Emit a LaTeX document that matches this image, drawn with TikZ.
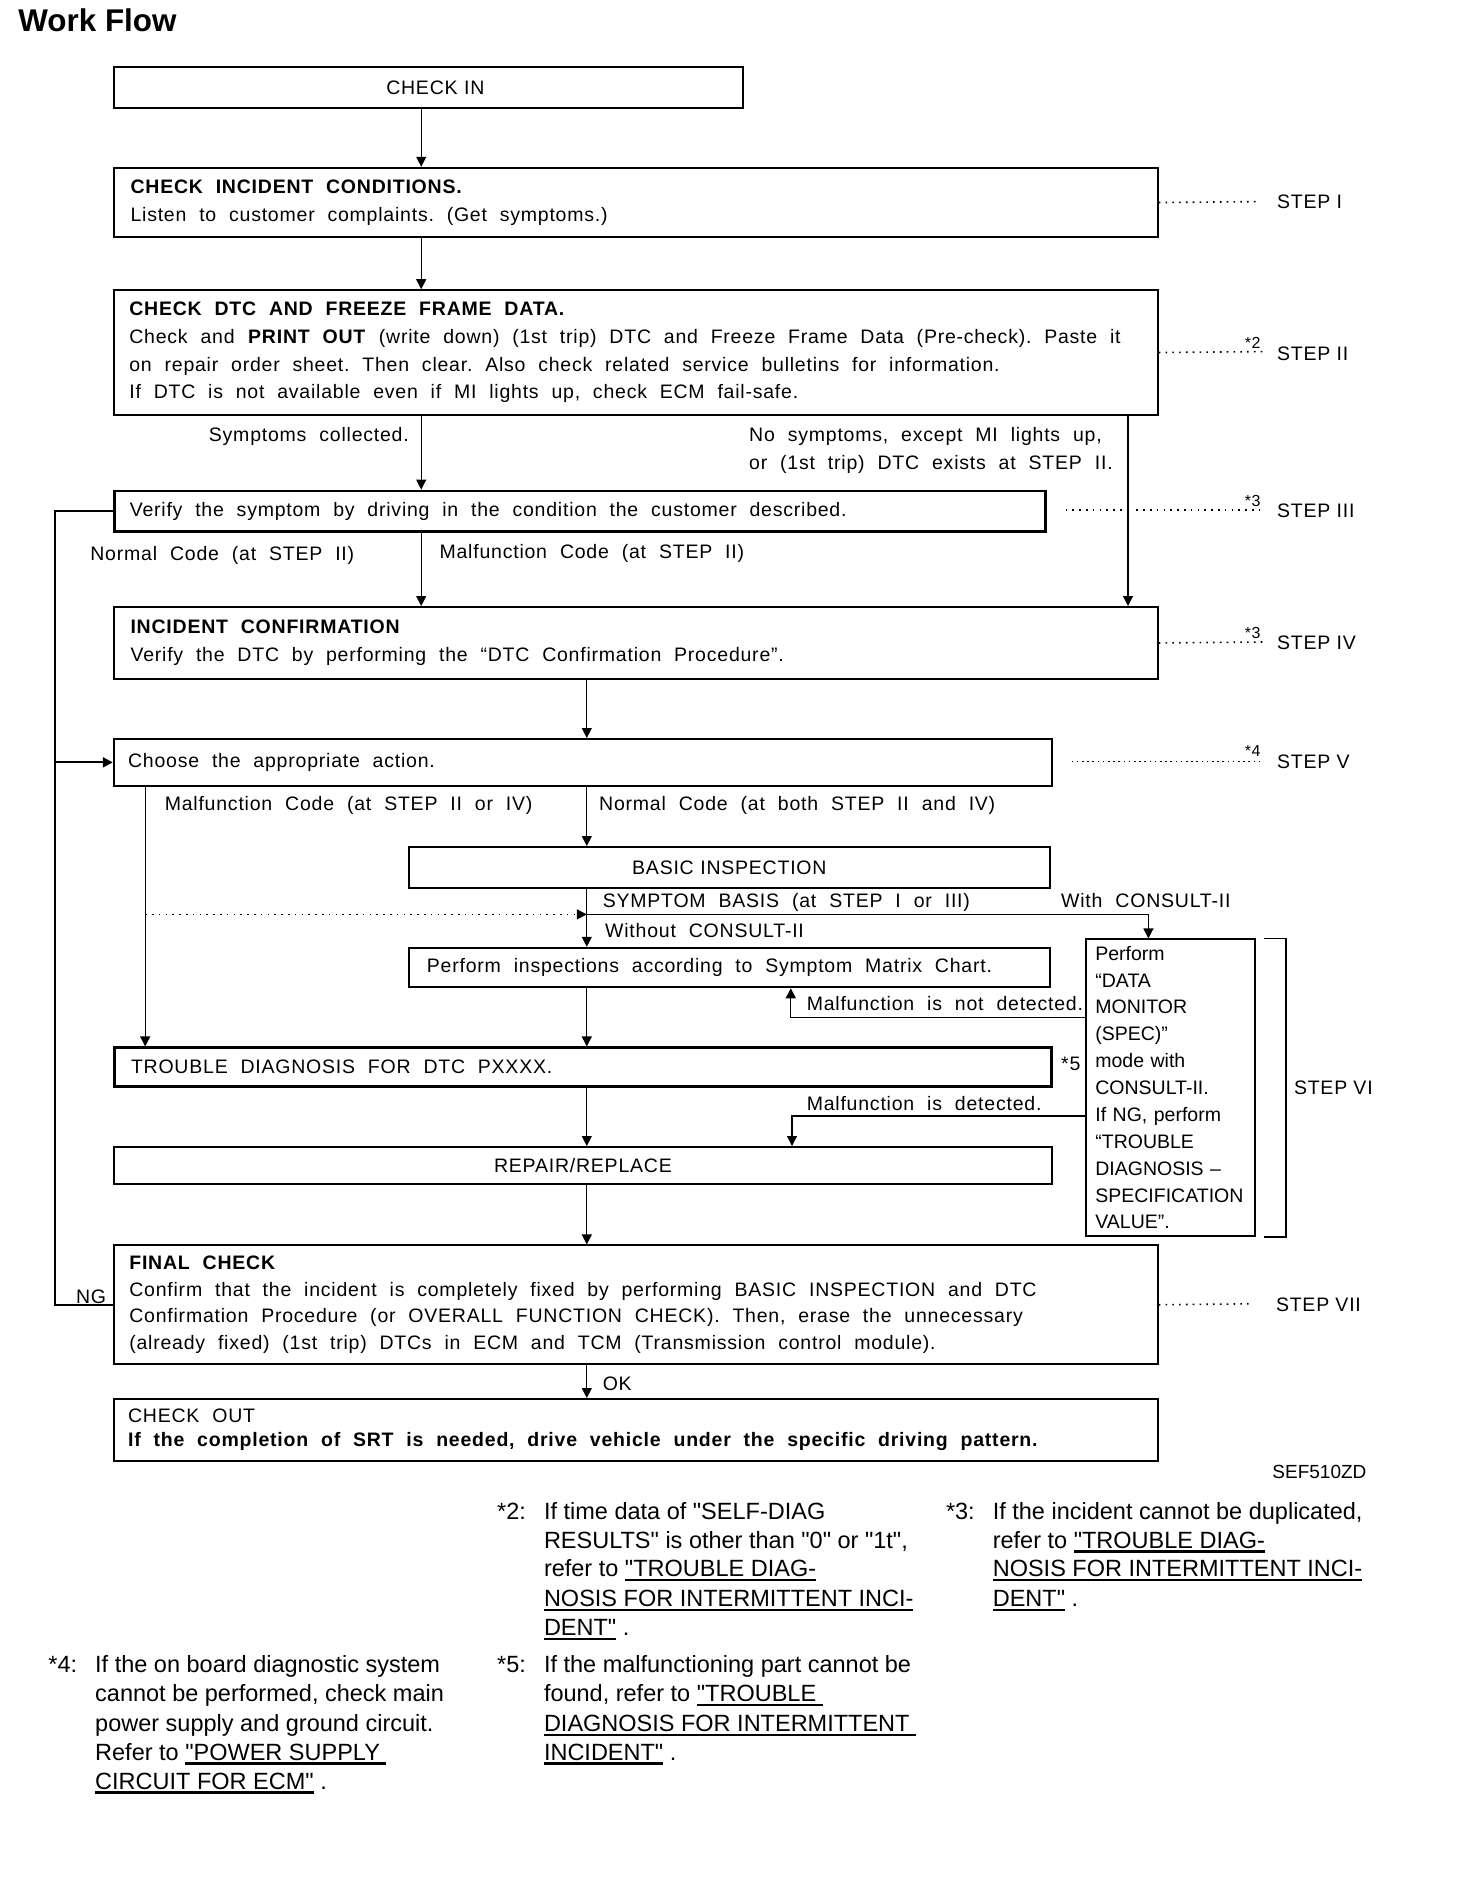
\documentclass[tikz,border=0pt]{standalone}
\usepackage{fontspec}
\setmainfont{Liberation Sans}
\newfontfamily\mainf{Liberation Sans}[LetterSpace=4]
\newfontfamily\notef{Liberation Sans}
\usetikzlibrary{arrows.meta}
\newcommand\mf{\mainf\fontsize{9.75pt}{13.8pt}\selectfont\spaceskip=6.45pt\relax}
\newcommand\sfnt{\mainf\fontsize{9.75pt}{13.8pt}\selectfont}
\newcommand\nf{\notef\fontsize{11.75pt}{14.6pt}\selectfont}
\newcommand\df{\notef\fontsize{9.75pt}{13.44pt}\selectfont}
\newcommand\stf{\mainf\fontsize{8pt}{9pt}\selectfont}
\newcommand\ttlf{\notef\bfseries\fontsize{15.7pt}{18pt}\selectfont}
\newcommand\bx{\spaceskip=6.4pt plus 1pt minus 0.5pt\xspaceskip=\spaceskip\relax}
\newsavebox\ulbox
\newcommand\ulink[1]{\sbox\ulbox{#1}\rlap{\rule[-2.3pt]{\wd\ulbox}{1.3pt}}\usebox\ulbox}
\begin{document}
\begin{tikzpicture}[x=0.6pt,y=-0.6pt,
  box/.style={draw, line width=0.95pt, rectangle, anchor=north west, inner ysep=0pt, font=\mf, align=left},
  thickbox/.style={box, line width=1.4pt},
  lbl/.style={inner sep=0pt, font=\mf, anchor=base west},
  lble/.style={inner sep=0pt, font=\mf, anchor=base east},
  steplbl/.style={inner sep=0pt, font=\sfnt, anchor=base west},
  star/.style={inner sep=0pt, font=\stf, anchor=base west},
  fn/.style={inner sep=0pt, font=\nf, anchor=base west},
  arr/.style={line width=0.6pt, -{Triangle[length=5pt,width=5pt]}},
  conn/.style={line width=0.6pt},
  loopline/.style={line width=1pt},
  dots/.style={line width=0.8pt, dash pattern=on 0.8pt off 2.6pt},
]
\fill[white] (0,0) rectangle (1226.67,1568.33);
\useasboundingbox (0,0) rectangle (1226.67,1568.33);

\node[inner sep=0pt, anchor=base west, font=\ttlf] (title) at (15,26.5) {Work Flow};

% boxes
\node[box, minimum width=314.4pt, minimum height=20.4pt, text width=314.4pt, inner xsep=0pt, align=center] (checkin) at (94,55) {\hspace*{7.2pt}CHECK IN};
\node[box, minimum width=522pt, minimum height=34.8pt, text width=505.2pt, inner xsep=8.4pt] (incident) at (94,139)
 {\bx\textbf{CHECK INCIDENT CONDITIONS.}\\Listen to customer complaints. (Get symptoms.)};
\node[box, minimum width=522pt, minimum height=62.4pt, text width=506.4pt, inner xsep=7.8pt] (dtc) at (94,241)
 {\bx\textbf{CHECK DTC AND FREEZE FRAME DATA.}\\
  \mbox{Check and \textbf{PRINT OUT} (write down) (1st trip) DTC and Freeze Frame Data (Pre-check). Paste it}\\
  \mbox{on repair order sheet. Then clear. Also check related service bulletins for information.}\\
  \mbox{If DTC is not available even if MI lights up, check ECM fail-safe.}};
\node[thickbox, minimum width=465.6pt, minimum height=20.4pt, text width=450pt, inner xsep=7.8pt] (verify) at (94,408)
 {\bx\mbox{Verify the symptom by driving in the condition the customer described.}};
\node[box, minimum width=522pt, minimum height=36pt, text width=505.2pt, inner xsep=8.4pt] (confirm) at (94,505)
 {\bx\textbf{INCIDENT CONFIRMATION}\\Verify the DTC by performing the “DTC Confirmation Procedure”.};
\node[box, minimum width=469.2pt, minimum height=23.4pt, text width=454.8pt, inner xsep=7.2pt] (choose) at (94,615)
 {\bx Choose the appropriate action.};
\node[box, minimum width=320.4pt, minimum height=20.4pt, text width=320.4pt, inner xsep=0pt, align=center] (basic) at (340,705)
 {BASIC INSPECTION};
\node[box, minimum width=320.4pt, minimum height=19.8pt, text width=302.4pt, inner xsep=9pt] (perform) at (340,789)
 {\bx\mbox{Perform inspections according to Symptom Matrix Chart.}};
\node[box, font=\df, minimum width=84.6pt, minimum height=148.2pt, text width=75pt, inner xsep=4.8pt] (datamon) at (904,782)
 {Perform\\“DATA\\MONITOR\\(SPEC)”\\mode with\\CONSULT-II.\\If NG, perform\\“TROUBLE\\DIAGNOSIS –\\SPECIFICATION\\VALUE”.};
\node[thickbox, minimum width=468.6pt, minimum height=19.2pt, text width=451.8pt, inner xsep=8.4pt] (trouble) at (94,872)
 {\bx TROUBLE DIAGNOSIS FOR DTC PXXXX.};
\node[box, minimum width=469.2pt, minimum height=18.6pt, text width=469.2pt, inner xsep=0pt, align=center] (repair) at (94,955)
 {REPAIR/REPLACE};
\node[box, font=\mainf\fontsize{9.75pt}{13.2pt}\selectfont, minimum width=522pt, minimum height=59.4pt, text width=506.4pt, inner xsep=7.8pt] (final) at (94,1037)
 {\bx\textbf{FINAL CHECK}\\
  \mbox{Confirm that the incident is completely fixed by performing BASIC INSPECTION and DTC}\\
  \mbox{Confirmation Procedure (or OVERALL FUNCTION CHECK). Then, erase the unnecessary}\\
  \mbox{(already fixed) (1st trip) DTCs in ECM and TCM (Transmission control module).}};
\node[box, font=\mainf\fontsize{9.75pt}{12pt}\selectfont, minimum width=522pt, minimum height=31.2pt, text width=507.6pt, inner xsep=7.2pt] (checkout) at (94,1165)
 {\bx CHECK OUT\\\mbox{\textbf{If the completion of SRT is needed, drive vehicle under the specific driving pattern.}}};

% column coordinates
\coordinate (cA) at (351,0);
\coordinate (cB) at (489,0);
\coordinate (cC) at (940,0);
\coordinate (cL) at (46,0);
\coordinate (cM) at (121,0);
\coordinate (cD) at (957,0);
\coordinate (cE) at (659,0);
\coordinate (cF) at (660,0);
\coordinate (split) at (489,762);
\coordinate (dotst) at (121,762);
\coordinate (ndy) at (0,848);
\coordinate (dty) at (0,930);

% connectors
\draw[arr] (checkin.south -| cA) -- (incident.north -| cA);
\draw[arr] (incident.south -| cA) -- (dtc.north -| cA);
\draw[arr] (dtc.south -| cA) -- (verify.north -| cA);
\draw[arr] (dtc.south -| cC) -- (confirm.north -| cC);
\draw[arr] (verify.south -| cA) -- (confirm.north -| cA);
\draw[arr] (confirm.south -| cB) -- (choose.north -| cB);
\draw[arr] (choose.south -| cM) -- (trouble.north -| cM);
\draw[arr] (choose.south -| cB) -- (basic.north -| cB);
\draw[arr] (basic.south -| cB) -- (perform.north -| cB);
\draw[arr] (split) -| (datamon.north -| cD);
\draw[dots, -{Triangle[length=5pt,width=5pt]}] (dotst) -- (split);
\draw[arr] (datamon.west |- ndy) -| (perform.south -| cE);
\draw[arr] (perform.south -| cB) -- (trouble.north -| cB);
\draw[arr] (datamon.west |- dty) -| (repair.north -| cF);
\draw[arr] (trouble.south -| cB) -- (repair.north -| cB);
\draw[arr] (repair.south -| cB) -- (final.north -| cB);
\draw[arr] (final.south -| cB) -- (checkout.north -| cB);
\draw[loopline] (verify.west) -| (cL |- final.west) -- (final.west);
\draw[loopline, -{Triangle[length=5pt,width=5pt]}] (cL |- choose.west) -- (choose.west);

% STEP VI bracket
\draw[line width=0.9pt] ([xshift=4.2pt]datamon.north east) -- ++(18,0) |- ([xshift=4.2pt]datamon.south east);

% labels
\node[lble] (l1) at (341,368) {Symptoms collected.};
\node[lbl] (l2) at (624,368) {No symptoms, except MI lights up,};
\node[lbl] (l3) at (624,391) {or (1st trip) DTC exists at STEP II.};
\node[lbl] (l4) at (75,467) {Normal Code (at STEP II)};
\node[lbl] (l5) at (366,465) {Malfunction Code (at STEP II)};
\node[lbl] (l6) at (137,675) {Malfunction Code (at STEP II or IV)};
\node[lbl] (l7) at (499,675) {Normal Code (at both STEP II and IV)};
\node[lbl] (l8) at (502,756) {SYMPTOM BASIS (at STEP I or III)};
\node[lbl] (l9) at (504,781) {Without CONSULT-II};
\node[lbl] (l10) at (884,756) {With CONSULT-II};
\node[lbl] (l11) at (672,842) {Malfunction is not detected.};
\node[lbl] (l12) at (672,925) {Malfunction is detected.};
\node[lbl] (l13) at (884,892) {*5};
\node[lbl] (l14) at (63,1086) {NG};
\node[lbl] (l15) at (502,1159) {OK};

% steps
\node[steplbl] (s1) at (1064,173.5) {STEP I};
\node[steplbl] (s2) at (1064,300.5) {STEP II};
\node[steplbl] (s3) at (1064,431) {STEP III};
\node[steplbl] (s4) at (1064,541) {STEP IV};
\node[steplbl] (s5) at (1064,640.5) {STEP V};
\node[steplbl] (s6) at (1078,912) {STEP VI};
\node[steplbl] (s7) at (1063,1092.7) {STEP VII};
\node[star] (a2) at (1037,290) {*2};
\node[star] (a3) at (1037,422) {*3};
\node[star] (a3b) at (1037,532) {*3};
\node[star] (a4) at (1037,630) {*4};
\coordinate (d1) at (1050,168);
\coordinate (d2) at (1052,293);
\coordinate (d3a) at (888,425);
\coordinate (d3b) at (937,425);
\coordinate (d3c) at (947,425);
\coordinate (d3d) at (1051,425);
\coordinate (d4) at (1052,535);
\coordinate (d5a) at (893,634.5);
\coordinate (d5b) at (1051,634.5);
\coordinate (d7) at (1043,1086.5);
\draw[dots] (incident.east) -- (d1);
\draw[dots] (dtc.east) -- (d2);
\draw[dots] (d3a) -- (d3b);
\draw[dots] (d3c) -- (d3d);
\draw[dots] (confirm.east) -- (d4);
\draw[dots, dash pattern=on 0.8pt off 1.8pt] (d5a) -- (d5b);
\draw[dots] (final.east) -- (d7);

\node[inner sep=0pt, anchor=base west, font=\notef\fontsize{9.5pt}{11pt}\selectfont] (ref) at (1060,1232) {SEF510ZD};

% footnotes
\node[fn] (f2m) at (414,1266) {*2:};
\node[fn] (f21) at (453,1266) {If time data of "SELF-DIAG};
\node[fn] (f22) at (453,1290) {RESULTS" is other than "0" or "1t",};
\node[fn] (f23) at (453,1314) {refer to \ulink{"TROUBLE DIAG-}};
\node[fn] (f24) at (453,1339) {\ulink{NOSIS FOR INTERMITTENT INCI-}};
\node[fn] (f25) at (453,1363) {\ulink{DENT"} .};

\node[fn] (f3m) at (788,1266) {*3:};
\node[fn] (f31) at (827,1266) {If the incident cannot be duplicated,};
\node[fn] (f32) at (827,1290) {refer to \ulink{"TROUBLE DIAG-}};
\node[fn] (f33) at (827,1314) {\ulink{NOSIS FOR INTERMITTENT INCI-}};
\node[fn] (f34) at (827,1339) {\ulink{DENT"} .};

\node[fn] (f4m) at (40,1394) {*4:};
\node[fn] (f41) at (79,1394) {If the on board diagnostic system};
\node[fn] (f42) at (79,1418) {cannot be performed, check main};
\node[fn] (f43) at (79,1443) {power supply and ground circuit.};
\node[fn] (f44) at (79,1467) {Refer to \ulink{"POWER SUPPLY }};
\node[fn] (f45) at (79,1491) {\ulink{CIRCUIT FOR ECM"} .};

\node[fn] (f5m) at (414,1394) {*5:};
\node[fn] (f51) at (453,1394) {If the malfunctioning part cannot be};
\node[fn] (f52) at (453,1418) {found, refer to \ulink{"TROUBLE }};
\node[fn] (f53) at (453,1443) {\ulink{DIAGNOSIS FOR INTERMITTENT }};
\node[fn] (f54) at (453,1467) {\ulink{INCIDENT"} .};
\end{tikzpicture}
\end{document}
